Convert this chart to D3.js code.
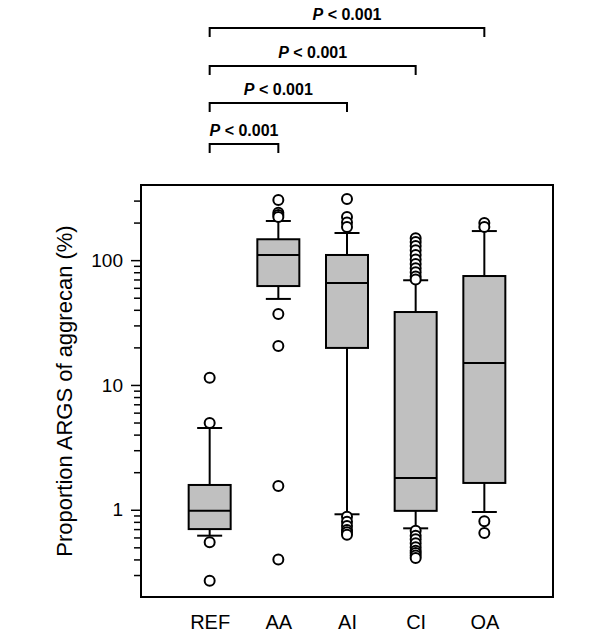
<!DOCTYPE html>
<html>
<head>
<meta charset="utf-8">
<script src="https://cdn.jsdelivr.net/npm/d3@7"></script>
<style>
  body { margin: 0; background: #fff; }
  svg { display: block; }
  text { font-family: "Liberation Sans", Arial, sans-serif; }
</style>
</head>
<body>
<svg id="chart" width="600" height="636"></svg>
<script>
// ---- Data ----
const categories = ["REF", "AA", "AI", "CI", "OA"];
// box statistics: lower whisker, Q1, median, Q3, upper whisker
const whiskerLow  = [0.62, 48.9, 0.92, 0.71, 0.96];
const q1Values    = [0.70, 62,   19.8, 0.98, 1.64];
const medians     = [0.98, 110,  65.6, 1.80, 15.0];
const q3Values    = [1.58, 147,  110,  38.4, 74.6];
const whiskerHigh = [4.52, 206,  165,  69,   171];
// outliers per category
const outliersREF = [11.4, 4.95, 0.55, 0.27];
const outliersAA  = [303, 240, 230, 222, 37, 20.5, 1.55, 0.40];
const outliersAI  = [309, 222, 200, 184, 0.88, 0.80, 0.74, 0.69, 0.66, 0.63];
const outliersCI  = [150, 140, 130, 120, 110, 101, 93, 86, 80, 74, 70,
                     0.68, 0.62, 0.58, 0.54, 0.50, 0.47, 0.45, 0.43, 0.41];
const outliersOA  = [198, 184, 0.81, 0.65];
const outlierLists = [outliersREF, outliersAA, outliersAI, outliersCI, outliersOA];
// y-axis
const yDomain = [0.2, 400];
const yMajorTicks = [1, 10, 100];
const yMinorTicks = [0.3, 0.4, 0.5, 0.6, 0.7, 0.8, 0.9,
                     2, 3, 4, 5, 6, 7, 8, 9,
                     20, 30, 40, 50, 60, 70, 80, 90,
                     200, 300];
const yLabel = "Proportion ARGS of aggrecan (%)";
// significance comparisons (from REF to each group)
const compareFrom = ["REF", "REF", "REF", "REF"];
const compareTo   = ["AA", "AI", "CI", "OA"];
const compareText = ["0.001", "0.001", "0.001", "0.001"];

// ---- Layout ----
const svg = d3.select("#chart");
const frame = { left: 141, right: 553, top: 185, bottom: 597 };

const x = d3.scalePoint().domain(categories)
  .range([frame.left, frame.right]).padding(1);
const y = d3.scaleLog().domain(yDomain).range([frame.bottom, frame.top]);

const boxW = 42, capW = 25, r = 5;

// Boxes
const boxes = categories.map((c, i) => ({
  c, lo: whiskerLow[i], q1: q1Values[i], med: medians[i], q3: q3Values[i],
  hi: whiskerHigh[i], out: outlierLists[i]
}));

const g = svg.append("g");
const bg = g.selectAll("g.box").data(boxes).join("g").attr("class", "box");

// whisker lines
bg.append("line")
  .attr("x1", d => x(d.c)).attr("x2", d => x(d.c))
  .attr("y1", d => y(d.q3)).attr("y2", d => y(d.hi))
  .attr("stroke", "#000").attr("stroke-width", 2);
bg.append("line")
  .attr("x1", d => x(d.c)).attr("x2", d => x(d.c))
  .attr("y1", d => y(d.q1)).attr("y2", d => y(d.lo))
  .attr("stroke", "#000").attr("stroke-width", 2);
// caps
bg.append("line")
  .attr("x1", d => x(d.c) - capW / 2).attr("x2", d => x(d.c) + capW / 2)
  .attr("y1", d => y(d.hi)).attr("y2", d => y(d.hi))
  .attr("stroke", "#000").attr("stroke-width", 2);
bg.append("line")
  .attr("x1", d => x(d.c) - capW / 2).attr("x2", d => x(d.c) + capW / 2)
  .attr("y1", d => y(d.lo)).attr("y2", d => y(d.lo))
  .attr("stroke", "#000").attr("stroke-width", 2);
// box
bg.append("rect")
  .attr("x", d => x(d.c) - boxW / 2).attr("width", boxW)
  .attr("y", d => y(d.q3)).attr("height", d => y(d.q1) - y(d.q3))
  .attr("fill", "#c0c0c0").attr("stroke", "#000").attr("stroke-width", 2);
// median
bg.append("line")
  .attr("x1", d => x(d.c) - boxW / 2).attr("x2", d => x(d.c) + boxW / 2)
  .attr("y1", d => y(d.med)).attr("y2", d => y(d.med))
  .attr("stroke", "#000").attr("stroke-width", 2);
// outliers
bg.selectAll("circle").data(d => d.out.map(v => ({ c: d.c, v })))
  .join("circle")
  .attr("cx", d => x(d.c)).attr("cy", d => y(d.v)).attr("r", r)
  .attr("fill", "#fff").attr("stroke", "#000").attr("stroke-width", 2);

// Frame
svg.append("rect")
  .attr("x", frame.left).attr("y", frame.top)
  .attr("width", frame.right - frame.left).attr("height", frame.bottom - frame.top)
  .attr("fill", "none").attr("stroke", "#000").attr("stroke-width", 2);

// Y axis (major + minor ticks)
const yAxisMajor = d3.axisLeft(y).tickValues(yMajorTicks)
  .tickFormat(d3.format("d")).tickSize(10).tickPadding(8);
const ya = svg.append("g").attr("transform", `translate(${frame.left},0)`).call(yAxisMajor);
ya.select(".domain").remove();
ya.selectAll(".tick line").attr("stroke", "#000").attr("stroke-width", 1.5);
ya.selectAll(".tick text").attr("font-size", 19).attr("fill", "#000")
  .attr("font-family", "Liberation Sans, Arial, sans-serif");

const yAxisMinor = d3.axisLeft(y).tickValues(yMinorTicks).tickFormat("").tickSize(7);
const ym = svg.append("g").attr("transform", `translate(${frame.left},0)`).call(yAxisMinor);
ym.select(".domain").remove();
ym.selectAll(".tick line").attr("stroke", "#000").attr("stroke-width", 1.5);

// X axis labels
const xAxis = d3.axisBottom(x).tickSize(0).tickPadding(18);
const xa = svg.append("g").attr("transform", `translate(0,${frame.bottom})`).call(xAxis);
xa.select(".domain").remove();
xa.selectAll(".tick text").attr("font-size", 20).attr("fill", "#000")
  .attr("font-family", "Liberation Sans, Arial, sans-serif");

// Y label
svg.append("text")
  .attr("transform", `translate(72,${(frame.top + frame.bottom) / 2}) rotate(-90)`)
  .attr("text-anchor", "middle")
  .attr("font-size", 22)
  .text(yLabel);

// Significance brackets
const bracketY = [144, 103, 66, 28];
const tickDown = 9;
compareTo.forEach((to, i) => {
  const x1 = x(compareFrom[i]), x2 = x(to), by = bracketY[i];
  svg.append("path")
    .attr("d", d3.line()([[x1, by + tickDown], [x1, by], [x2, by], [x2, by + tickDown]]))
    .attr("fill", "none").attr("stroke", "#000").attr("stroke-width", 2);
  const t = svg.append("text")
    .attr("x", (x1 + x2) / 2).attr("y", by - 8)
    .attr("text-anchor", "middle")
    .attr("font-size", 16).attr("font-weight", "bold");
  t.append("tspan").attr("font-style", "italic").text("P");
  t.append("tspan").text(" < " + compareText[i]);
});
</script>
</body>
</html>
